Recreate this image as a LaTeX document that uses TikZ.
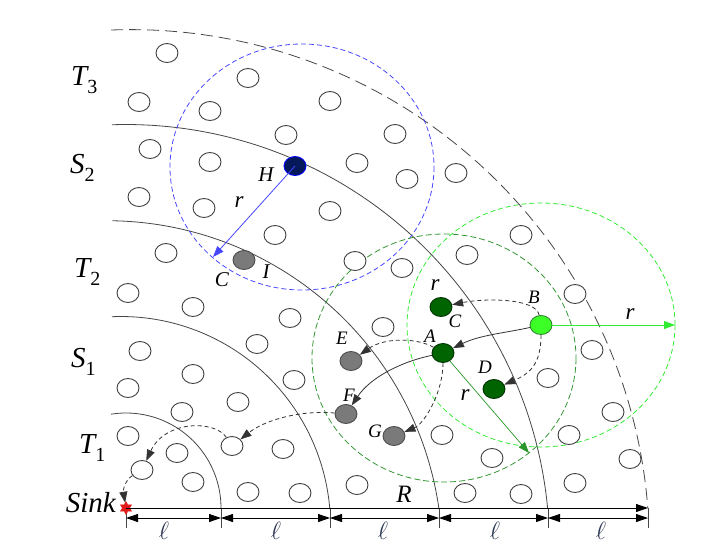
\documentclass[tikz,border=0pt]{standalone}
\usepackage{fontspec}
\setmainfont{Liberation Serif}
\usetikzlibrary{shapes.geometric,arrows.meta}
\definecolor{arcgray}{RGB}{70,70,70}
\definecolor{nodegray}{RGB}{122,122,122}
\definecolor{dkgreen}{RGB}{0,100,0}
\definecolor{ltgreen}{RGB}{60,255,40}
\definecolor{rangeblue}{RGB}{70,70,255}
\definecolor{rangegreen}{RGB}{50,235,50}
\definecolor{rangedkgreen}{RGB}{50,150,50}
\definecolor{arrgreen}{RGB}{40,150,40}
\definecolor{navy}{RGB}{5,25,90}
\definecolor{sinkred}{RGB}{225,25,25}
\definecolor{ellcol}{RGB}{45,55,85}
\newcommand\lsub[1]{\raisebox{-8pt}{\fontsize{20}{20}\selectfont\upshape #1}}
\begin{document}
\begin{tikzpicture}[x=1pt,y=-1pt,
 hol/.style={ellipse,draw=black!75,line width=0.9pt,fill=white,minimum width=22pt,minimum height=19pt,inner sep=0pt},
 gnode/.style={hol,fill=nodegray,draw=black!70},
 dgnode/.style={hol,fill=dkgreen,draw=black!50!dkgreen},
 lgnode/.style={hol,fill=ltgreen,draw=dkgreen!80},
 hnode/.style={hol,fill=navy,draw=blue},
 arcline/.style={draw=arcgray,line width=0.8pt},
 tip/.style={-{Triangle[length=11pt,width=8pt]}},
 dasharr/.style={draw=black!80,line width=0.8pt,dash pattern=on 4pt off 3pt,tip},
 solarr/.style={draw=black!80,line width=0.8pt,tip},
 dimarr/.style={line width=0.8pt,{Triangle[length=12pt,width=8pt]}-{Triangle[length=12pt,width=8pt]}},
 biglab/.style={font=\fontsize{29}{29}\selectfont\itshape,inner sep=0pt,anchor=base west},
 slab/.style={font=\fontsize{19}{19}\selectfont\itshape,inner sep=0pt},
 mlab/.style={font=\fontsize{21}{21}\selectfont\itshape,inner sep=0pt},
 rlab/.style={font=\fontsize{23}{23}\selectfont\itshape,inner sep=0pt},
 elllab/.style={font=\fontsize{25}{25}\selectfont,text=ellcol,inner sep=0pt},
]
\useasboundingbox (0,0) rectangle (724,558);

% zone boundary arcs
\draw[arcline] plot[variable=\t,domain=-99:0,samples=60] ({126+95*cos(\t)},{508+95*sin(\t)});
\draw[arcline] plot[variable=\t,domain=-92.5:-4.9,samples=80] ({121+209.5*cos(\t)},{526+209.5*sin(\t)});
\draw[arcline] plot[variable=\t,domain=-89.1:-8.2,samples=100] ({107+335.3*cos(\t)},{556+335.3*sin(\t)});
\draw[arcline] plot[variable=\t,domain=-91.9:-5.4,samples=120] ({126+423.5*cos(\t)},{548+423.5*sin(\t)});
\draw[arcline,dash pattern=on 12pt off 6pt] plot[variable=\t,domain=-92.2:-4.4,samples=140] ({131+518.4*cos(\t)},{548+518.4*sin(\t)});

% communication ranges
\draw[rangeblue,line width=0.8pt,dash pattern=on 5pt off 3pt] (302,167) ellipse [x radius=132,y radius=123];
\draw[rangegreen,line width=0.8pt,dash pattern=on 5pt off 3pt] (541,325) ellipse [x radius=134,y radius=122];
\draw[rangedkgreen,line width=0.8pt,dash pattern=on 6pt off 3pt] (444,358) ellipse [x radius=132,y radius=124];

% dimension lines
\foreach \x/\n in {126/0,221/1,330/2,439/3,548/4,648/5}{
  \coordinate (d\n) at (\x,518);
  \draw[arcgray,line width=0.8pt] (\x,508) -- (\x,528);
}
\coordinate (rend) at (648,508);
\draw[dimarr] (d0) -- (d1);
\draw[dimarr] (d1) -- (d2);
\draw[dimarr] (d2) -- (d3);
\draw[dimarr] (d3) -- (d4);
\draw[dimarr] (d4) -- (d5);

% ordinary sensor nodes
\foreach \p [count=\i] in {(167,53),(248,78),(139,102),(210,111),(330,101),(286,135),(395,134),(150,149),(210,162),(357,163),(407,179),(456,173),(139,197),(204,208),(330,211),(275,235),(166,253),(521,235),(467,255),(355,261),(402,268),(128,293),(193,307),(290,318),(257,344),(383,327),(140,351),(193,374),(128,388),(294,380),(238,402),(182,412),(128,436),(283,449),(177,453),(193,482),(248,492),(300,493),(357,485),(442,435),(465,493),(492,458),(521,494),(575,294),(592,350),(548,378),(613,412),(569,435),(630,459),(575,483)}
  \node[hol] (n\i) at \p {};
\node[hol] (m1) at (232,446) {};
\node[hol] (m2) at (142,470) {};

% special nodes
\node[hnode] (H) at (295,166) {};
\node[gnode] (I) at (244,260) {};
\node[dgnode] (C) at (441,307) {};
\node[dgnode] (A) at (443,353) {};
\node[dgnode] (D) at (494,389) {};
\node[lgnode] (B) at (541,325) {};
\node[gnode] (E) at (351,361) {};
\node[gnode] (F) at (346,414) {};
\node[gnode] (G) at (394,436) {};
\node[star,star points=6,star point ratio=1.8,fill=sinkred,draw=sinkred,minimum size=13pt,inner sep=0pt] (sink) at (126,508) {};

\draw[line width=0.8pt,-{Triangle[length=12pt,width=8pt]}] (sink.center) -- (rend);

% radius arrows
\coordinate (hb) at (213,257);
\coordinate (bg) at (675,325);
\coordinate (ag) at (529,453);
\draw[rangeblue,line width=0.8pt,-{Triangle[length=11pt,width=8pt]}] (H.center) -- (hb);
\draw[rangegreen,line width=0.9pt,-{Triangle[length=11pt,width=8pt]}] (B) -- (bg);
\draw[arrgreen,line width=0.7pt,-{Triangle[length=11pt,width=8pt]}] (A) -- (ag);

% forwarding arrows
\draw[dasharr] (B) .. controls (536,298) and (485,298) .. (C);
\draw[solarr] (B) .. controls (505,333) and (480,335) .. (A);
\draw[dasharr] (B) .. controls (541,365) and (529,374) .. (D);
\draw[dasharr] (A) .. controls (418,338) and (385,337) .. (E);
\draw[solarr] (A) .. controls (400,362) and (370,378) .. (F);
\draw[dasharr] (A) .. controls (443,393) and (424,424) .. (G);
\draw[dasharr] (F) .. controls (300,410) and (265,420) .. (m1);
\draw[dasharr] (m1) .. controls (215,420) and (165,420) .. (m2);
\draw[dasharr] (m2) .. controls (125,480) and (123,490) .. (sink);

% labels
\node[biglab] (lT3) at (71,85) {T\lsub{3}};
\node[biglab] (lS2) at (70,173) {S\lsub{2}};
\node[biglab] (lT2) at (74,277) {T\lsub{2}};
\node[biglab] (lS1) at (71,367) {S\lsub{1}};
\node[biglab] (lT1) at (79,453) {T\lsub{1}};
\node[font=\fontsize{29}{29}\selectfont\itshape,inner sep=0pt,anchor=base east] (lsink) at (116,512) {Sink};
\node[mlab] (lH) at (266,175) {H};
\node[rlab] (lr1) at (239,202) {r};
\node[mlab] (lCl) at (222,280) {C};
\node[mlab] (lI) at (266,272) {I};
\node[rlab] (lr2) at (435,285) {r};
\node[slab] (lC) at (455,321) {C};
\node[slab] (lB) at (534,297) {B};
\node[slab] (lA) at (430,336) {A};
\node[slab] (lE) at (342,338) {E};
\node[slab] (lD) at (485,367) {D};
\node[rlab] (lr3) at (465,395) {r};
\node[slab] (lF) at (349,395) {F};
\node[slab] (lG) at (375,431) {G};
\node[rlab] (lr4) at (630,314) {r};
\node[font=\fontsize{25}{25}\selectfont\itshape,inner sep=0pt] (lR) at (404,494) {R};
\foreach \x in {164,276,383,495,601}
  \node[elllab] at (\x,531) {$\ell$};
\end{tikzpicture}
\end{document}
